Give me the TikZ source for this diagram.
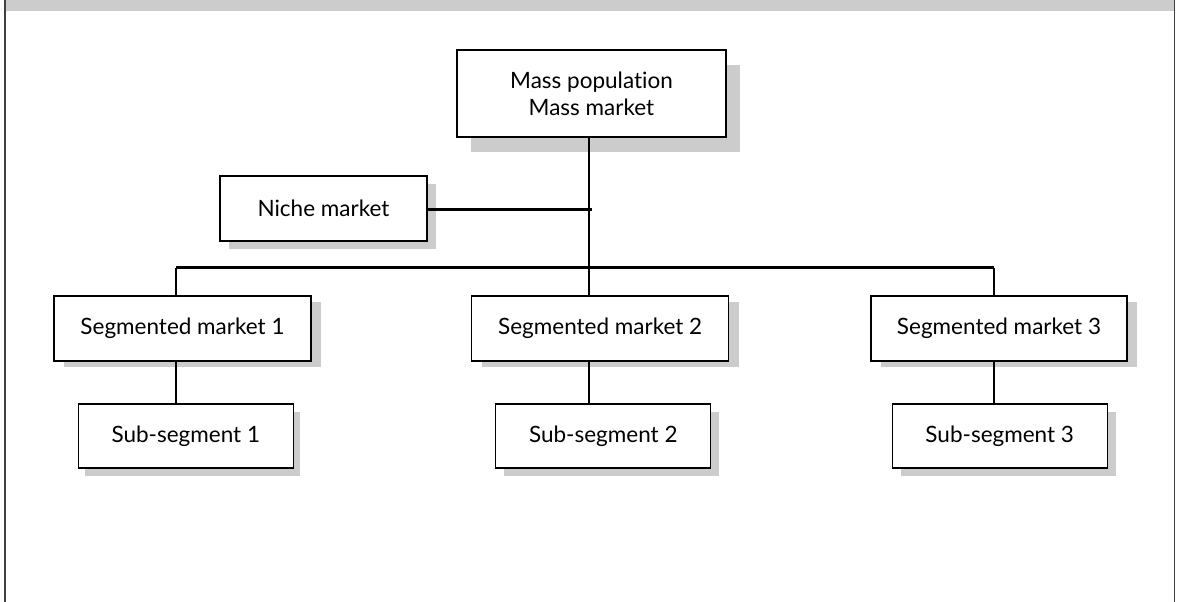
\documentclass[tikz,border=0pt]{standalone}
\usepackage{fontspec}
\setmainfont{Lato}[Ligatures=NoCommon]
\tikzset{
  boxshade/.style={fill=black!20},
  marketbox/.style={draw=black, line width=1.3pt, fill=white, rectangle,
    inner sep=0pt, align=center,
    font=\fontsize{22.5}{27}\selectfont},
  link/.style={line width=2.3pt},
  frameline/.style={line width=1.6pt, draw=black!75},
}
% box with a hard grey drop shadow offset by (#6,#7) in pixels
\newcommand{\shadedbox}[7]{%
  \fill[boxshade] (#1-#3/2+#6, #2-#4/2+#7) rectangle (#1+#3/2+#6, #2+#4/2+#7);
  \node[marketbox, minimum width=#3pt, minimum height=#4pt] (#5) at (#1,#2)}
\begin{document}
\begin{tikzpicture}[x=1pt,y=-1pt]
  \useasboundingbox (0,0) rectangle (1178,602);
  % title band and frame
  \fill[black!20] (5,0) rectangle (1174,10.7);
  \draw[frameline] (5,0) -- (5,602);
  \draw[frameline] (1174.5,0) -- (1174.5,602);

  % bus coordinates
  \coordinate (spine) at (589,137);
  \coordinate (nicheJ) at (592,209.5);
  \coordinate (busC) at (589,267.5);
  \coordinate (busL) at (176,267.5);
  \coordinate (busR) at (994,267.5);

  % boxes
  \shadedbox{591.5}{93.5}{269}{87}{mass}{14}{15} {Mass population\\Mass market};
  \shadedbox{323.5}{208.5}{207}{65}{niche}{9}{8} {Niche market};
  \shadedbox{182.5}{328.5}{257}{65}{seg1}{10}{6} {Segmented market 1};
  \shadedbox{600.2}{328.5}{257}{65}{seg2}{10}{6} {Segmented market 2};
  \shadedbox{999}{328.5}{256}{65}{seg3}{10}{6} {Segmented market 3};
  \shadedbox{185.8}{436}{215}{64}{sub1}{7}{8} {Sub-segment 1};
  \shadedbox{603.3}{436}{215}{64}{sub2}{8}{8} {Sub-segment 2};
  \shadedbox{999.7}{436}{215}{64}{sub3}{9}{8} {Sub-segment 3};

  % connectors
  \draw[link] (mass.south -| spine) -- (busC);
  \draw[link] (niche.east |- nicheJ) -- (nicheJ);
  \draw[link] (busL) -- (busR);
  \draw[link] (busL) -- (seg1.north -| busL);
  \draw[link] (busC) -- (seg2.north -| busC);
  \draw[link] (busR) -- (seg3.north -| busR);
  \draw[link] (seg1.south -| busL) -- (sub1.north -| busL);
  \draw[link] (seg2.south -| busC) -- (sub2.north -| busC);
  \draw[link] (seg3.south -| busR) -- (sub3.north -| busR);
\end{tikzpicture}
\end{document}
